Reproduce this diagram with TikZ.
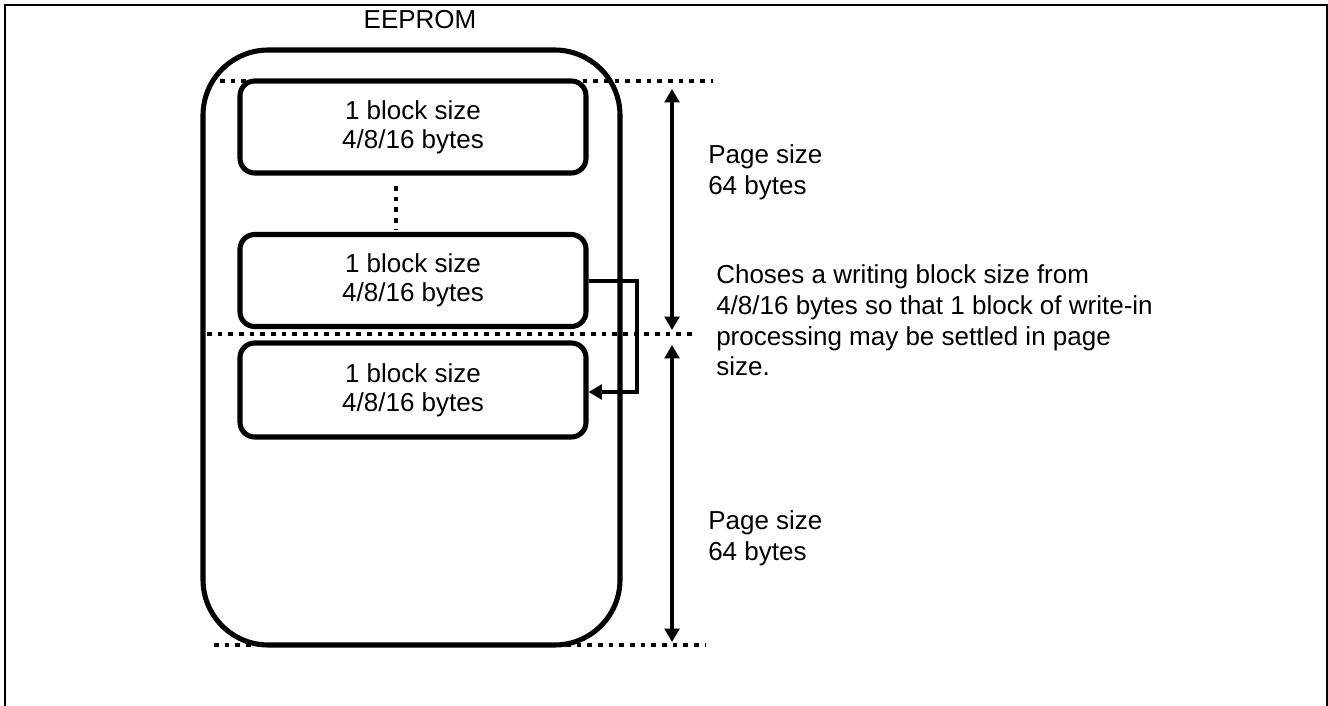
\documentclass[tikz,border=0pt]{standalone}
\usepackage{fontspec}
\setmainfont{Liberation Sans}
\usetikzlibrary{arrows.meta}
\usetikzlibrary{positioning}
\newcommand\blockfont{\fontsize{19.5pt}{22pt}\selectfont}
\newcommand\notefont{\fontsize{19.5pt}{23pt}\selectfont}

\begin{document}
\begin{tikzpicture}[x=.75pt,y=-.75pt,
  blockbox/.style={draw,line width=3.8pt,rounded corners=11pt,minimum width=259.5pt,minimum height=69pt,align=center,font=\blockfont},
  dotline/.style={line width=3.6pt,dash pattern=on 3.6pt off 4.4pt},
  pagearrow/.style={line width=3pt,{Triangle[length=10pt,width=11pt]}-{Triangle[length=10pt,width=11pt]}},
  note/.style={anchor=west,align=left,inner sep=0pt,font=\notefont}]
\useasboundingbox (0,0) rectangle (1328,706);
\draw[line width=2.2pt] (5,720)--(5,5)--(1327,5)--(1327,720);
% memory outline
\draw[line width=3.8pt,rounded corners=49pt] (203,50) rectangle (620,645);
\node[inner sep=0pt,font=\notefont] (eepromlbl) at (420,20) {EEPROM};
% blocks
\node[blockbox] (blkA) at (413,127) {1 block size\\4/8/16 bytes};
\node[blockbox] (blkB) at (413,280.5) {1 block size\\4/8/16 bytes};
\node[blockbox,minimum height=70.5pt] (blkC) at (413,390) {1 block size\\4/8/16 bytes};
\draw[dotline] (396,186)--(396,230);
% page borders
\draw[dotline] (220,81)--(713,81);
\draw[dotline] (207,334)--(697,334);
\draw[dotline] (214,645)--(705,645);
% block moves into next page
\coordinate (bend) at (637,392);
\draw[line width=3pt,-{Triangle[length=10pt,width=11pt]}] (blkB.east) -| (bend) -- (blkC.east |- bend);
% page sizes
\coordinate (pgA) at (672,89);
\coordinate (pgB) at (672,330);
\coordinate (pgC) at (672,345);
\coordinate (pgD) at (672,642);
\draw[pagearrow] (pgA)--(pgB);
\draw[pagearrow] (pgC)--(pgD);
\node[note] (sizeA) at (708,172.5) {Page size\\64 bytes};
\node[note] (sizeB) at (708,538.5) {Page size\\64 bytes};
\node[note] (choose) at (716,320.5) {Choses a writing block size from\\4/8/16 bytes so that 1 block of write-in\\processing may be settled in page\\size.};
\end{tikzpicture}
\end{document}
